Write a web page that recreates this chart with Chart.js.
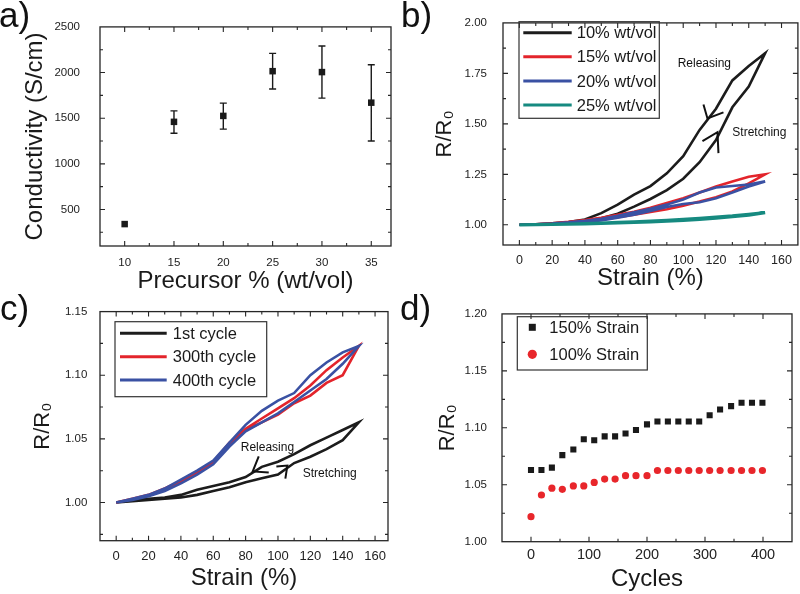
<!DOCTYPE html>
<html lang="en">
<head>
  <meta charset="UTF-8">
  <title>Conductivity and strain response</title>
  <script src="https://cdn.jsdelivr.net/npm/chart.js"></script>
  <style>
    body { margin: 0; background: #fff; }
    .mae { position: relative; width: 800px; height: 594px; overflow: hidden; }
    canvas { position: absolute; }
  </style>
</head>
<body>
  <div class="mae">
    <canvas id="chartA" width="400" height="297" style="left:0;top:0"></canvas>
    <canvas id="chartB" width="400" height="297" style="left:400px;top:0"></canvas>
    <canvas id="chartC" width="400" height="302" style="left:0;top:292px"></canvas>
    <canvas id="chartD" width="400" height="302" style="left:400px;top:292px"></canvas>
  </div>

<script>
// a) conductivity vs precursor
const precursor = [10, 15, 20, 25, 30, 35]
const conductivity = [340, 1460, 1525, 2015, 2005, 1670]
const condLow = [340, 1335, 1380, 1820, 1720, 1250]
const condHigh = [340, 1580, 1665, 2210, 2290, 2085]
const aTicksX = [10, 15, 20, 25, 30, 35]
const aTicksY = [500, 1000, 1500, 2000, 2500]

// b) and c) loops: stretching 0 -> 150, releasing 150 -> 0
const strainLoop = [0, 10, 20, 30, 40, 50, 60, 70, 80, 90, 100, 110, 120, 130, 140, 150,
  140, 130, 120, 110, 100, 90, 80, 70, 60, 50, 40, 30, 20, 10, 0]
const bLabels = ['10% wt/vol', '15% wt/vol', '20% wt/vol', '25% wt/vol']
const b10 = [1.000, 1.002, 1.006, 1.012, 1.020, 1.032, 1.055, 1.090, 1.128, 1.172, 1.228, 1.310, 1.420, 1.582, 1.685, 1.850,
  1.787, 1.715, 1.575, 1.470, 1.340, 1.255, 1.192, 1.150, 1.100, 1.058, 1.026, 1.014, 1.008, 1.003, 1.000]
const b15 = [1.000, 1.003, 1.007, 1.012, 1.018, 1.027, 1.038, 1.050, 1.063, 1.077, 1.095, 1.115, 1.137, 1.165, 1.205, 1.250,
  1.238, 1.215, 1.190, 1.160, 1.132, 1.108, 1.085, 1.065, 1.050, 1.035, 1.024, 1.015, 1.008, 1.003, 1.000]
const b20 = [1.000, 1.002, 1.005, 1.009, 1.014, 1.022, 1.035, 1.050, 1.068, 1.088, 1.103, 1.112, 1.132, 1.160, 1.190, 1.215,
  1.200, 1.192, 1.185, 1.160, 1.125, 1.100, 1.080, 1.062, 1.045, 1.030, 1.020, 1.012, 1.006, 1.002, 1.000]
const b25 = [1.000, 1.001, 1.002, 1.003, 1.005, 1.007, 1.009, 1.012, 1.015, 1.018, 1.022, 1.027, 1.033, 1.040, 1.048, 1.060,
  1.052, 1.044, 1.038, 1.032, 1.027, 1.022, 1.018, 1.015, 1.012, 1.009, 1.006, 1.004, 1.002, 1.001, 1.000]
const bTicksX = [0, 20, 40, 60, 80, 100, 120, 140, 160]
const bTicksY = [1.00, 1.25, 1.50, 1.75, 2.00]

const cLabels = ['1st cycle', '300th cycle', '400th cycle']
const c1 = [1.000, 1.001, 1.002, 1.003, 1.004, 1.006, 1.009, 1.012, 1.016, 1.019, 1.022, 1.031, 1.036, 1.042, 1.049, 1.063,
  1.057, 1.051, 1.045, 1.038, 1.032, 1.028, 1.020, 1.016, 1.013, 1.010, 1.006, 1.004, 1.003, 1.002, 1.000]
const c300 = [1.000, 1.003, 1.006, 1.010, 1.016, 1.023, 1.031, 1.045, 1.057, 1.063, 1.069, 1.078, 1.084, 1.094, 1.100, 1.123,
  1.114, 1.104, 1.092, 1.082, 1.074, 1.066, 1.058, 1.047, 1.032, 1.024, 1.017, 1.011, 1.006, 1.003, 1.000]
const c400 = [1.000, 1.002, 1.005, 1.009, 1.015, 1.022, 1.030, 1.044, 1.056, 1.063, 1.070, 1.079, 1.088, 1.097, 1.109, 1.123,
  1.118, 1.110, 1.100, 1.086, 1.080, 1.072, 1.061, 1.047, 1.033, 1.025, 1.018, 1.011, 1.006, 1.003, 1.000]
const cTicksX = [0, 20, 40, 60, 80, 100, 120, 140, 160]
const cTicksY = [1.00, 1.05, 1.10, 1.15]

// d) cycling
const dLabels = ['150% Strain', '100% Strain']
const cycles = [0, 18, 36, 54, 73, 91, 109, 127, 145, 163, 181, 200, 218, 236, 254, 272, 290, 308, 326, 345, 363, 381, 399]
const d150 = [1.063, 1.063, 1.065, 1.076, 1.081, 1.090, 1.089, 1.0925, 1.0925, 1.095, 1.098, 1.103, 1.1055, 1.1055, 1.1055,
  1.1055, 1.1055, 1.111, 1.116, 1.119, 1.122, 1.122, 1.122]
const d100 = [1.022, 1.041, 1.047, 1.046, 1.049, 1.049, 1.052, 1.055, 1.055, 1.058, 1.058, 1.058, 1.0625, 1.0625, 1.0625,
  1.0625, 1.0625, 1.0625, 1.0625, 1.0625, 1.0625, 1.0625, 1.0625]
const dTicksX = [0, 100, 200, 300, 400]
const dTicksY = [1.00, 1.05, 1.10, 1.15, 1.20]

Chart.defaults.font.family = '"Liberation Sans", Arial, sans-serif'
Chart.defaults.color = '#222'
Chart.defaults.animation = false

const FONT = '"Liberation Sans", Arial, sans-serif'

function pares(xs, ys) {
  return xs.map((x, i) => ({ x: x, y: ys[i] }))
}

function eixoX(min, max, ticks, casas, titulo, alto, fs, pad, tpad) {
  return {
    type: 'linear', min: min, max: max,
    grid: { display: false, drawTicks: false }, border: { display: false },
    afterBuildTicks: s => { s.ticks = ticks.map(v => ({ value: v })) },
    afterFit: s => { s.height = alto },
    ticks: { padding: pad, font: { size: fs }, color: '#222', callback: v => v.toFixed(casas) },
    title: { display: true, text: titulo, font: { size: 24 }, color: '#1a1a1a', padding: { top: 0, bottom: tpad } }
  }
}

function eixoY(min, max, ticks, casas, titulo, tam, largo, pad, tpad) {
  return {
    type: 'linear', min: min, max: max,
    grid: { display: false, drawTicks: false }, border: { display: false },
    afterBuildTicks: s => { s.ticks = ticks.map(v => ({ value: v })) },
    afterFit: s => { s.width = largo },
    ticks: { padding: pad, font: { size: 11.5 }, color: '#222', callback: v => v.toFixed(casas) },
    title: { display: true, text: titulo, font: { size: tam }, color: '#1a1a1a', padding: { top: tpad, bottom: 0 } }
  }
}

// frame, inward ticks, legend, notes and error bars
function deco(cfg) {
  return {
    id: 'deco',
    afterDatasetsDraw(chart) {
      if (!cfg.err) return
      const ctx = chart.ctx, xs = chart.scales.x, ys = chart.scales.y
      ctx.save()
      ctx.strokeStyle = '#1a1a1a'
      ctx.lineWidth = 1.4
      ctx.beginPath()
      cfg.err.x.forEach((xv, i) => {
        const px = xs.getPixelForValue(xv)
        const lo = ys.getPixelForValue(cfg.err.lo[i]), hi = ys.getPixelForValue(cfg.err.hi[i])
        if (Math.abs(lo - hi) < 1) return
        ctx.moveTo(px, lo); ctx.lineTo(px, hi)
        ctx.moveTo(px - 3.5, lo); ctx.lineTo(px + 3.5, lo)
        ctx.moveTo(px - 3.5, hi); ctx.lineTo(px + 3.5, hi)
      })
      ctx.stroke()
      ctx.restore()
    },
    afterDraw(chart) {
      const ctx = chart.ctx, a = chart.chartArea, xs = chart.scales.x, ys = chart.scales.y
      ctx.save()
      ctx.strokeStyle = '#262626'
      ctx.lineWidth = 1.3
      ctx.strokeRect(a.left, a.top, a.right - a.left, a.bottom - a.top)

      const menores = (s, step) => {
        const out = []
        for (let k = Math.ceil(s.min / step - 1e-6); k * step <= s.max + 1e-6; k++) out.push(k * step)
        return out
      }
      const marcaX = (vals, len) => vals.forEach(v => {
        const p = xs.getPixelForValue(v)
        if (p < a.left + 1 || p > a.right - 1) return
        ctx.moveTo(p, a.bottom); ctx.lineTo(p, a.bottom - len)
        ctx.moveTo(p, a.top); ctx.lineTo(p, a.top + len)
      })
      const marcaY = (vals, len) => vals.forEach(v => {
        const p = ys.getPixelForValue(v)
        if (p < a.top + 1 || p > a.bottom - 1) return
        ctx.moveTo(a.left, p); ctx.lineTo(a.left + len, p)
        ctx.moveTo(a.right, p); ctx.lineTo(a.right - len, p)
      })
      ctx.lineWidth = 1.1
      ctx.beginPath()
      marcaX(menores(xs, cfg.minorX), 3)
      marcaY(menores(ys, cfg.minorY), 3)
      marcaX(xs.ticks.map(t => t.value), 5)
      marcaY(ys.ticks.map(t => t.value), 5)
      ctx.stroke()

      // panel tag
      ctx.fillStyle = '#111'
      ctx.font = '35px ' + FONT
      ctx.textAlign = 'left'
      ctx.textBaseline = 'alphabetic'
      ctx.fillText(cfg.tag[0], cfg.tag[1], cfg.tag[2])

      // legend
      const L = cfg.legend
      if (L) {
        ctx.strokeStyle = '#333'
        ctx.lineWidth = 1.2
        ctx.strokeRect(L.box[0], L.box[1], L.box[2], L.box[3])
        ctx.font = '16.5px ' + FONT
        ctx.textBaseline = 'middle'
        chart.data.datasets.forEach((ds, i) => {
          const yy = L.rows[i]
          if (L.kind === 'line') {
            ctx.strokeStyle = ds.borderColor
            ctx.lineWidth = 3
            ctx.beginPath(); ctx.moveTo(L.line[0], yy); ctx.lineTo(L.line[1], yy); ctx.stroke()
          } else {
            ctx.fillStyle = ds.backgroundColor
            if (ds.pointStyle === 'rect') ctx.fillRect(L.mark - 3.5, yy - 3.5, 7, 7)
            else { ctx.beginPath(); ctx.arc(L.mark, yy, 4.6, 0, Math.PI * 2); ctx.fill() }
          }
          ctx.fillStyle = '#1a1a1a'
          ctx.fillText(ds.label, L.text, yy + 1)
        })
      }

      // annotations
      ctx.fillStyle = '#111'
      ctx.font = '12px ' + FONT
      ctx.textBaseline = 'middle'
      ;(cfg.notes || []).forEach(n => {
        ctx.fillText(n.text, xs.getPixelForValue(n.x), ys.getPixelForValue(n.y))
      })
      ctx.strokeStyle = '#111'
      ctx.lineWidth = 2
      ;(cfg.arrows || []).forEach(ar => {
        const px = xs.getPixelForValue(ar.x), py = ys.getPixelForValue(ar.y)
        ctx.beginPath()
        ctx.moveTo(px + ar.arms[0][0], py + ar.arms[0][1])
        ctx.lineTo(px, py)
        ctx.lineTo(px + ar.arms[1][0], py + ar.arms[1][1])
        ctx.stroke()
      })
      ctx.restore()
    }
  }
}

const base = (pad) => ({
  responsive: false,
  events: [],
  layout: { padding: pad },
  plugins: { legend: { display: false }, tooltip: { enabled: false } }
})

// a)
new Chart(document.getElementById('chartA'), {
  type: 'scatter',
  data: {
    datasets: [{
      label: 'Conductivity',
      data: pares(precursor, conductivity),
      pointStyle: 'rect', pointRadius: 4.6, borderWidth: 0,
      backgroundColor: '#1a1a1a'
    }]
  },
  options: Object.assign(base({ left: 0, top: 17, right: 9, bottom: 0 }), {
    scales: {
      x: eixoX(7.5, 37, aTicksX, 0, 'Precursor % (wt/vol)', 51, 11.5, 10.4, 1.6),
      y: eixoY(100, 2500, aTicksY, 0, 'Conductivity (S/cm)', 24, 100, 20, 20.6)
    }
  }),
  plugins: [deco({
    minorX: 2.5, minorY: 250, tag: ['a)', -1, 27],
    err: { x: precursor, lo: condLow, hi: condHigh }
  })]
})

// b)
const bCores = ['#1c1c1c', '#e3242b', '#3a51a3', '#168a80']
const bSeries = [b10, b15, b20, b25]
new Chart(document.getElementById('chartB'), {
  type: 'scatter',
  data: {
    datasets: bSeries.map((s, i) => ({
      label: bLabels[i], data: pares(strainLoop, s), showLine: true,
      borderColor: bCores[i], backgroundColor: bCores[i], borderWidth: i === 3 ? 3.2 : 2.6,
      pointRadius: 0, tension: 0, order: 3 - i
    }))
  },
  options: Object.assign(base({ left: 0, top: 7, right: 1, bottom: 0 }), {
    scales: {
      x: eixoX(-10, 170, bTicksX, 0, 'Strain (%)', 52, 12.5, 8, 4),
      y: eixoY(0.9, 2.0, bTicksY, 2, 'R/R\u2080', 22, 103, 16, 31.8)
    }
  }),
  plugins: [deco({
    minorX: 10, minorY: 0.125, tag: ['b)', 1, 27],
    legend: { kind: 'line', box: [119, 21.7, 140.3, 96.6], rows: [32.7, 56.7, 81, 105], line: [123.3, 171.7], text: 176.7 },
    notes: [{ text: 'Releasing', x: 96.6, y: 1.797 }, { text: 'Stretching', x: 130, y: 1.455 }],
    arrows: [
      { x: 114.8, y: 1.527, arms: [[-4, -14], [16, -6]] },
      { x: 120.9, y: 1.459, arms: [[-15, 9], [1, 21]] }
    ]
  })]
})

// c)
const cCores = ['#1c1c1c', '#e3242b', '#3a51a3']
const cSeries = [c1, c300, c400]
new Chart(document.getElementById('chartC'), {
  type: 'scatter',
  data: {
    datasets: cSeries.map((s, i) => ({
      label: cLabels[i], data: pares(strainLoop, s), showLine: true,
      borderColor: cCores[i], backgroundColor: cCores[i], borderWidth: 2.6,
      pointRadius: 0, tension: 0, order: 2 - i
    }))
  },
  options: Object.assign(base({ left: 0, top: 14.7, right: 12, bottom: 0 }), {
    scales: {
      x: eixoX(-10, 168, cTicksX, 0, 'Strain (%)', 53.3, 13, 7.5, 1.3),
      y: eixoY(0.97, 1.15, cTicksY, 2, 'R/R\u2080', 22, 100, 12.7, 30.1)
    }
  }),
  plugins: [deco({
    minorX: 10, minorY: 0.025, tag: ['c)', 0, 28],
    legend: { kind: 'line', box: [115, 29.7, 151.7, 75], rows: [41.3, 64.7, 88], line: [120, 166.7], text: 172.7 },
    notes: [{ text: 'Releasing', x: 77, y: 1.043 }, { text: 'Stretching', x: 115.3, y: 1.0223 }],
    arrows: [
      { x: 84.4, y: 1.0244, arms: [[6, -15], [16, 1]] },
      { x: 105.8, y: 1.029, arms: [[-11, 1], [-2, 13]] }
    ]
  })]
})

// d)
new Chart(document.getElementById('chartD'), {
  type: 'scatter',
  data: {
    datasets: [
      { label: dLabels[0], data: pares(cycles, d150), pointStyle: 'rect', pointRadius: 4.3, borderWidth: 0, backgroundColor: '#1a1a1a' },
      { label: dLabels[1], data: pares(cycles, d100), pointStyle: 'circle', pointRadius: 3.6, borderWidth: 0, backgroundColor: '#e8262b' }
    ]
  },
  options: Object.assign(base({ left: 0, top: 9.7, right: 8, bottom: 0 }), {
    scales: {
      x: eixoX(-50, 450, dTicksX, 0, 'Cycles', 52.3, 14.5, 4.6, 0),
      y: eixoY(1.0, 1.2, dTicksY, 2, 'R/R\u2080', 22, 102, 15, 35.1)
    }
  }),
  plugins: [deco({
    minorX: 50, minorY: 0.025, tag: ['d)', 0, 28],
    legend: { kind: 'mark', box: [117.3, 24.7, 130, 53.3], rows: [35.3, 62.3], mark: 132.3, text: 149.3 }
  })]
})
</script>
</body>
</html>
